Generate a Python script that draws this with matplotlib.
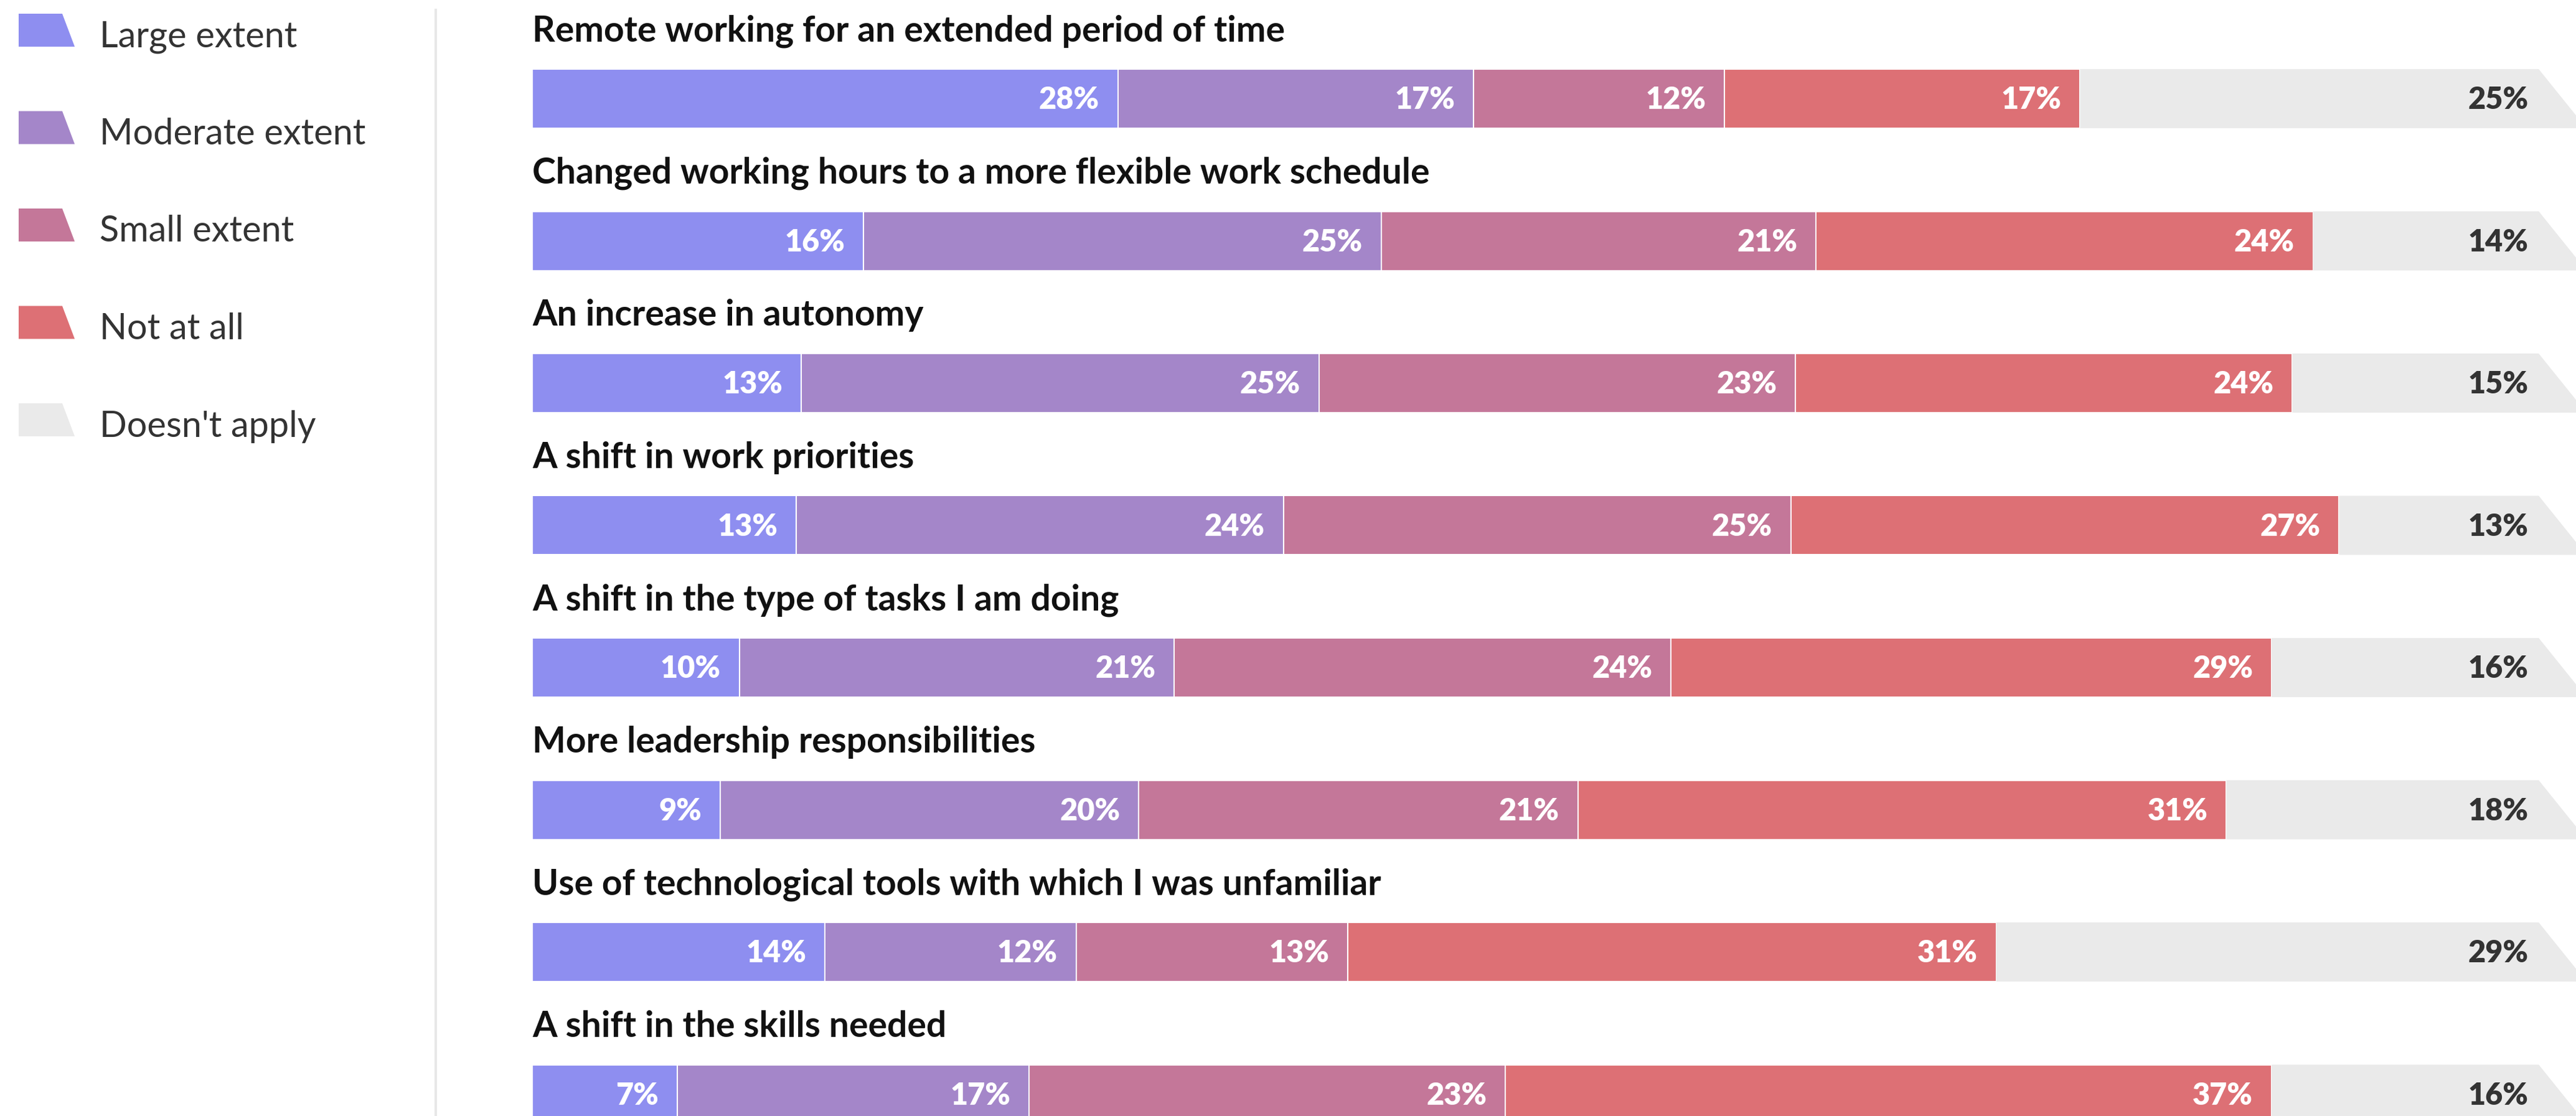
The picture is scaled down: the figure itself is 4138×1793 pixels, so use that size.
import numpy as np
import matplotlib.pyplot as plt
from matplotlib.patches import Polygon

plt.rcParams['font.family'] = ['Lato', 'DejaVu Sans']

questions = [
    'Remote working for an extended period of time',
    'Changed working hours to a more flexible work schedule',
    'An increase in autonomy',
    'A shift in work priorities',
    'A shift in the type of tasks I am doing',
    'More leadership responsibilities',
    'Use of technological tools with which I was unfamiliar',
    'A shift in the skills needed',
]
categories = ['Large extent', 'Moderate extent', 'Small extent', 'Not at all', "Doesn't apply"]
colors = ['#8e8ef0', '#a486c9', '#c47799', '#dd7075', '#eaeaea']

large = [28, 16, 13, 13, 10, 9, 14, 7]
moderate = [17, 25, 25, 24, 21, 20, 12, 17]
small = [12, 21, 23, 25, 24, 21, 13, 23]
not_at_all = [17, 24, 24, 27, 29, 31, 31, 37]
no_apply = [25, 14, 15, 13, 16, 18, 29, 16]

data = np.array([large, moderate, small, not_at_all, no_apply]).T

W, H = 4138, 1793
fig = plt.figure(figsize=(W / 100, H / 100), dpi=100)

# bar area
row = 228.5
first = 158.5
ax = fig.add_axes([855 / W, 0, 1 - 855 / W, 1])
ax.set_xlim(0, 98.7)
ax.set_ylim((H - first) / row, -first / row)
ax.axis('off')
bh = 95 / row

for i, q in enumerate(questions):
    vals = data[i]
    shares = vals / vals.sum() * 100
    ax.text(0, i - 0.475, q, fontsize=41, fontweight='bold', color='#111111',
            va='center', ha='left')
    left = 0
    for j in range(4):
        ax.barh(i, shares[j], left=left, height=bh, color=colors[j],
                edgecolor='white', linewidth=1.5)
        ax.text(left + shares[j] - 0.9, i + 0.01, f'{vals[j]}%', color='white',
                fontsize=35, fontweight='heavy', ha='right', va='center')
        left += shares[j]
    top, bot = i - bh / 2, i + bh / 2
    ax.add_patch(Polygon([(left, top), (96.9, top), (99.2, bot), (left, bot)],
                         closed=True, facecolor=colors[4], edgecolor='none'))
    ax.text(96.4, i + 0.01, f'{vals[4]}%', color='#333333', fontsize=35,
            fontweight='heavy', ha='right', va='center')

# legend panel
lg = fig.add_axes([0, 0, 760 / W, 1])
lg.set_xlim(0, 760)
lg.set_ylim(H, 0)
lg.axis('off')
for k, (c, lab) in enumerate(zip(colors, categories)):
    y0 = 22 + 156.5 * k
    lg.add_patch(Polygon([(30, y0), (100, y0), (120, y0 + 53), (30, y0 + 53)],
                         closed=True, facecolor=c, edgecolor='none'))
    lg.text(160, y0 + 37, lab, fontsize=41.5, color='#333333', va='center', ha='left')
lg.plot([700, 700], [16, H], color='#e8e8e8', linewidth=3)

fig.savefig('out.png', dpi=100, facecolor='white')
